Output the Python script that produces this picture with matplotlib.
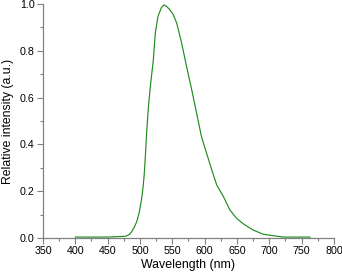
import matplotlib
matplotlib.use("Agg")
import matplotlib.pyplot as plt
from matplotlib.ticker import MultipleLocator

wavelength = [400, 450, 475, 479, 484, 487, 491, 495, 498, 500, 502, 503.6, 505, 506.5, 508.3, 510.3, 513, 516.5, 520.6, 523.7, 527.8,
              533, 537, 541, 546, 551.5, 556.7, 564.4, 572, 580, 587.6, 595, 603, 611, 618.6,
              629, 639, 649.5, 660, 675, 690.7, 706, 721.6, 740, 763]
intensity = [0.004, 0.004, 0.007, 0.009, 0.016, 0.027, 0.045, 0.07, 0.10, 0.127, 0.16, 0.19, 0.225, 0.27, 0.35, 0.45, 0.56, 0.66, 0.76, 0.876, 0.947,
             0.984, 0.996, 0.99, 0.976, 0.954, 0.919, 0.833, 0.733, 0.633, 0.533, 0.434, 0.362, 0.291, 0.227,
             0.177, 0.12, 0.084, 0.06, 0.034, 0.016, 0.01, 0.004, 0.004, 0.004]

plt.rcParams['font.family'] = ['Liberation Sans', 'DejaVu Sans']

fig = plt.figure(figsize=(3.42, 2.75), dpi=100)
ax = fig.add_axes([0.1257, 0.1345, 0.8509, 0.851])
ax.plot(wavelength, intensity, color='#228b22', lw=0.85)

ax.set_xlim(350, 800)
ax.set_ylim(0, 1.0)
ax.xaxis.set_major_locator(MultipleLocator(50))
ax.xaxis.set_minor_locator(MultipleLocator(25))
ax.yaxis.set_major_locator(MultipleLocator(0.2))
ax.yaxis.set_minor_locator(MultipleLocator(0.1))
ax.yaxis.set_major_formatter(matplotlib.ticker.FormatStrFormatter('%.1f'))

for s in ['top', 'right']:
    ax.spines[s].set_visible(False)
for s in ['left', 'bottom']:
    ax.spines[s].set_color('#808080')
    ax.spines[s].set_linewidth(0.9)
ax.tick_params(which='major', direction='out', length=4, width=0.8, color='#808080', labelsize=7.7, pad=2)
ax.tick_params(which='minor', direction='out', length=2.2, width=0.8, color='#808080')

ax.set_xlabel('Wavelength (nm)', fontsize=8.9, labelpad=2)
ax.set_ylabel('Relative intensity (a.u.)', fontsize=8.8, labelpad=4)

fig.savefig('out.png', dpi=100)
